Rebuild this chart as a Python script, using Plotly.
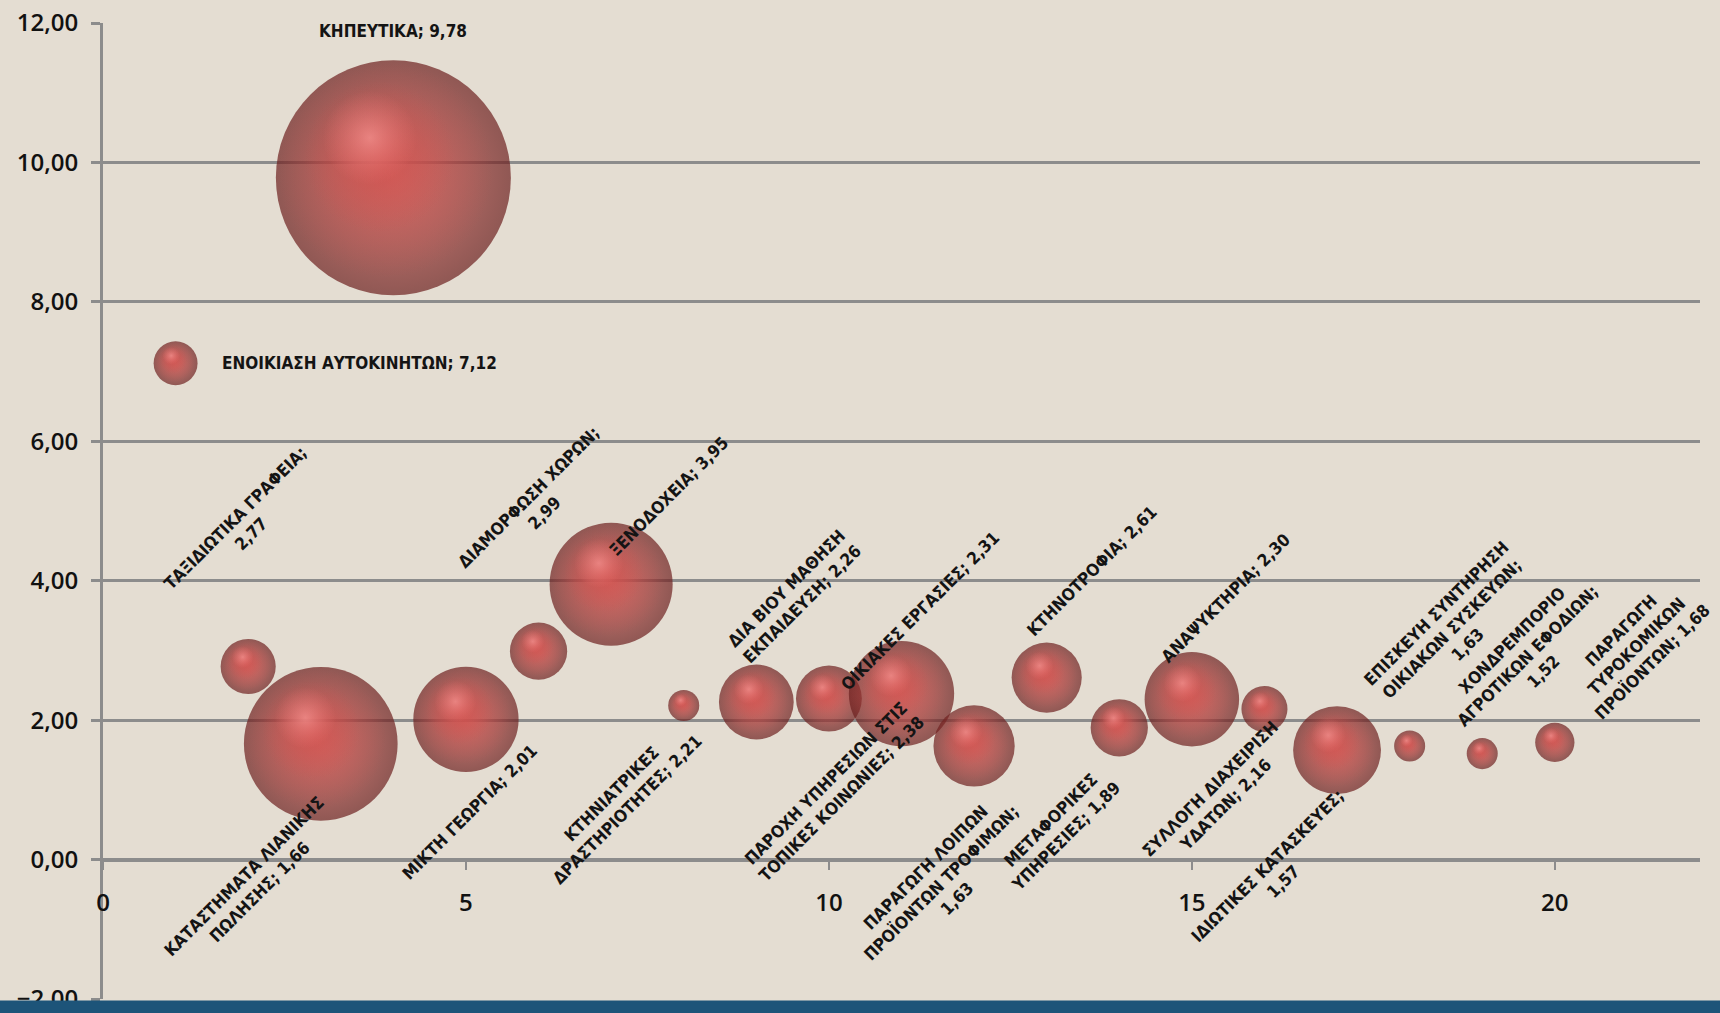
import math
import plotly.graph_objects as go

# ---------------- data ----------------
names = [
    "ΕΝΟΙΚΙΑΣΗ ΑΥΤΟΚΙΝΗΤΩΝ",
    "ΤΑΞΙΔΙΩΤΙΚΑ ΓΡΑΦΕΙΑ",
    "ΚΑΤΑΣΤΗΜΑΤΑ ΛΙΑΝΙΚΗΣ<br>ΠΩΛΗΣΗΣ",
    "ΚΗΠΕΥΤΙΚΑ",
    "ΜΙΚΤΗ ΓΕΩΡΓΙΑ",
    "ΔΙΑΜΟΡΦΩΣΗ ΧΩΡΩΝ",
    "ΞΕΝΟΔΟΧΕΙΑ",
    "ΚΤΗΝΙΑΤΡΙΚΕΣ<br>ΔΡΑΣΤΗΡΙΟΤΗΤΕΣ",
    "ΔΙΑ ΒΙΟΥ ΜΑΘΗΣΗ<br>ΕΚΠΑΙΔΕΥΣΗ",
    "ΟΙΚΙΑΚΕΣ ΕΡΓΑΣΙΕΣ",
    "ΠΑΡΟΧΗ ΥΠΗΡΕΣΙΩΝ ΣΤΙΣ<br>ΤΟΠΙΚΕΣ ΚΟΙΝΩΝΙΕΣ",
    "ΠΑΡΑΓΩΓΗ ΛΟΙΠΩΝ<br>ΠΡΟΪΟΝΤΩΝ ΤΡΟΦΙΜΩΝ",
    "ΚΤΗΝΟΤΡΟΦΙΑ",
    "ΜΕΤΑΦΟΡΙΚΕΣ<br>ΥΠΗΡΕΣΙΕΣ",
    "ΑΝΑΨΥΚΤΗΡΙΑ",
    "ΣΥΛΛΟΓΗ ΔΙΑΧΕΙΡΙΣΗ<br>ΥΔΑΤΩΝ",
    "ΙΔΙΩΤΙΚΕΣ ΚΑΤΑΣΚΕΥΕΣ",
    "ΕΠΙΣΚΕΥΗ ΣΥΝΤΗΡΗΣΗ<br>ΟΙΚΙΑΚΩΝ ΣΥΣΚΕΥΩΝ",
    "ΧΟΝΔΡΕΜΠΟΡΙΟ<br>ΑΓΡΟΤΙΚΩΝ ΕΦΟΔΙΩΝ",
    "ΠΑΡΑΓΩΓΗ<br>ΤΥΡΟΚΟΜΙΚΩΝ<br>ΠΡΟΪΟΝΤΩΝ",
]
x_pos = [1, 2, 3, 4, 5, 6, 7, 8, 9, 10, 11, 12, 13, 14, 15, 16, 17, 18, 19, 20]
values = [7.12, 2.77, 1.66, 9.78, 2.01, 2.99, 3.95, 2.21, 2.26, 2.31,
          2.38, 1.63, 2.61, 1.89, 2.30, 2.16, 1.57, 1.63, 1.52, 1.68]
# bubble weights
weights = [4.0, 6.3, 49.0, 114.5, 23.0, 6.8, 31.4, 2.0, 11.6, 9.0,
           23.0, 13.7, 10.2, 6.8, 18.5, 4.4, 16.0, 2.0, 2.0, 3.2]
# value printed on its own line?
value_newline = [False, True, False, False, False, True, False, False, False, False,
                 False, True, False, False, False, False, True, True, True, False]

x_ticks = [0, 5, 10, 15, 20]

# ---------------- layout geometry ----------------
W, H = 1720, 1013
ML, MR, MT, MB = 103, 20, 23, 14
XR = [0, 22]
YR = [-2, 12]
ppx = (W - ML - MR) / (XR[1] - XR[0])
ppy = (H - MT - MB) / (YR[1] - YR[0])

DMAX = 235.0
sizeref = max(weights) / DMAX ** 2
diam = [math.sqrt(w / sizeref) for w in weights]

# label placement (pixel offsets from bubble centre): (xshift, yshift, angle, anchor)
label_pos = [
    (44, 0, 0, "left"),
    (-5, 140, -45, "center"),
    (-69, -140, -45, "center"),
    (0, 147, 0, "center"),
    (4, -93, -45, "center"),
    (-2, 146, -45, "center"),
    (58, 88, -45, "center"),
    (-65, -96, -45, "center"),
    (38, 106, -45, "center"),
    (91, 88, -45, "center"),
    (-68, -97, -45, "center"),
    (-33, -137, -45, "center"),
    (45, 107, -45, "center"),
    (-61, -100, -45, "center"),
    (34, 101, -45, "center"),
    (-46, -87, -45, "center"),
    (-62, -124, -45, "center"),
    (42, 117, -45, "center"),
    (45, 98, -45, "center"),
    (82, 96, -45, "center"),
]

fig = go.Figure()

# sphere layers: (scale of diameter, screen offset x, y as fraction of D, edge colour, centre colour)
layers = [
    (1.00, 0.00, 0.00, "#6c1f1e", "#cf504d"),
    (0.92, -0.035, -0.035, "rgba(200,76,73,0)", "rgba(202,77,74,0.92)"),
    (0.64, -0.06, -0.09, "rgba(208,80,77,0)", "rgba(210,82,79,0.9)"),
    (0.40, -0.10, -0.17, "rgba(245,130,128,0)", "rgba(255,160,158,0.85)"),
]

for i in range(len(x_pos)):
    for k, (sc, ox, oy, edge, centre) in enumerate(layers):
        d = diam[i]
        fig.add_trace(go.Scatter(
            x=[x_pos[i] + ox * d / ppx],
            y=[values[i] - oy * d / ppy],
            mode="markers",
            marker=dict(
                size=[d * sc],
                sizemode="diameter",
                color=edge,
                gradient=dict(type="radial", color=centre),
                line=dict(width=0),
            ),
            hoverinfo="skip" if k else "text",
            text=[names[i].replace("<br>", " ")],
            showlegend=False,
        ))

label_font = dict(family="DejaVu Sans Condensed, DejaVu Sans, sans-serif",
                  size=17, color="#141414", weight="bold")

for i in range(len(x_pos)):
    val = f"{values[i]:.2f}".replace(".", ",")
    sep = ";<br>" if value_newline[i] else "; "
    txt = names[i] + sep + val
    xs, ys, ang, anc = label_pos[i]
    fig.add_annotation(
        x=x_pos[i], y=values[i], xref="x", yref="y",
        text=txt, showarrow=False, textangle=ang,
        xanchor=anc, yanchor="middle", align="center",
        xshift=xs, yshift=ys, font=label_font,
    )

grid_col = "#8c8c8c"
tick_font = dict(family="Open Sans, sans-serif", size=24, color="#111", weight=600)
fig.update_layout(
    width=W, height=H,
    margin=dict(l=ML, r=MR, t=MT, b=MB, autoexpand=False),
    paper_bgcolor="#e4ddd2",
    plot_bgcolor="#e4ddd2",
    separators=",.",
    xaxis=dict(
        range=XR, tickvals=x_ticks, showgrid=False, zeroline=False,
        showline=True, linecolor=grid_col, linewidth=3,
        ticks="outside", ticklen=8, tickwidth=2, tickcolor=grid_col,
        anchor="free", position=(0 - YR[0]) / (YR[1] - YR[0]),
        tickfont=tick_font, ticklabelstandoff=13, automargin=False,
    ),
    yaxis=dict(
        range=YR, dtick=2, tick0=0, tickformat=".2f",
        showgrid=True, gridcolor=grid_col, gridwidth=3, zeroline=False,
        showline=True, linecolor=grid_col, linewidth=3,
        ticks="outside", ticklen=9, tickwidth=3, tickcolor=grid_col,
        tickfont=tick_font, ticklabelstandoff=8, automargin=False,
        ticklabeloverflow="allow",
    ),
    shapes=[dict(type="rect", xref="paper", yref="paper",
                 x0=-ML / (W - ML - MR), x1=1 + MR / (W - ML - MR),
                 y0=-MB / (H - MT - MB), y1=-1.5 / (H - MT - MB),
                 fillcolor="#1d5479", line=dict(width=0), layer="above")],
)

fig.write_html(
    "out.html",
    config={"displayModeBar": False},
    post_script="document.body.style.margin='0';document.body.style.background='#e4ddd2';",
)
